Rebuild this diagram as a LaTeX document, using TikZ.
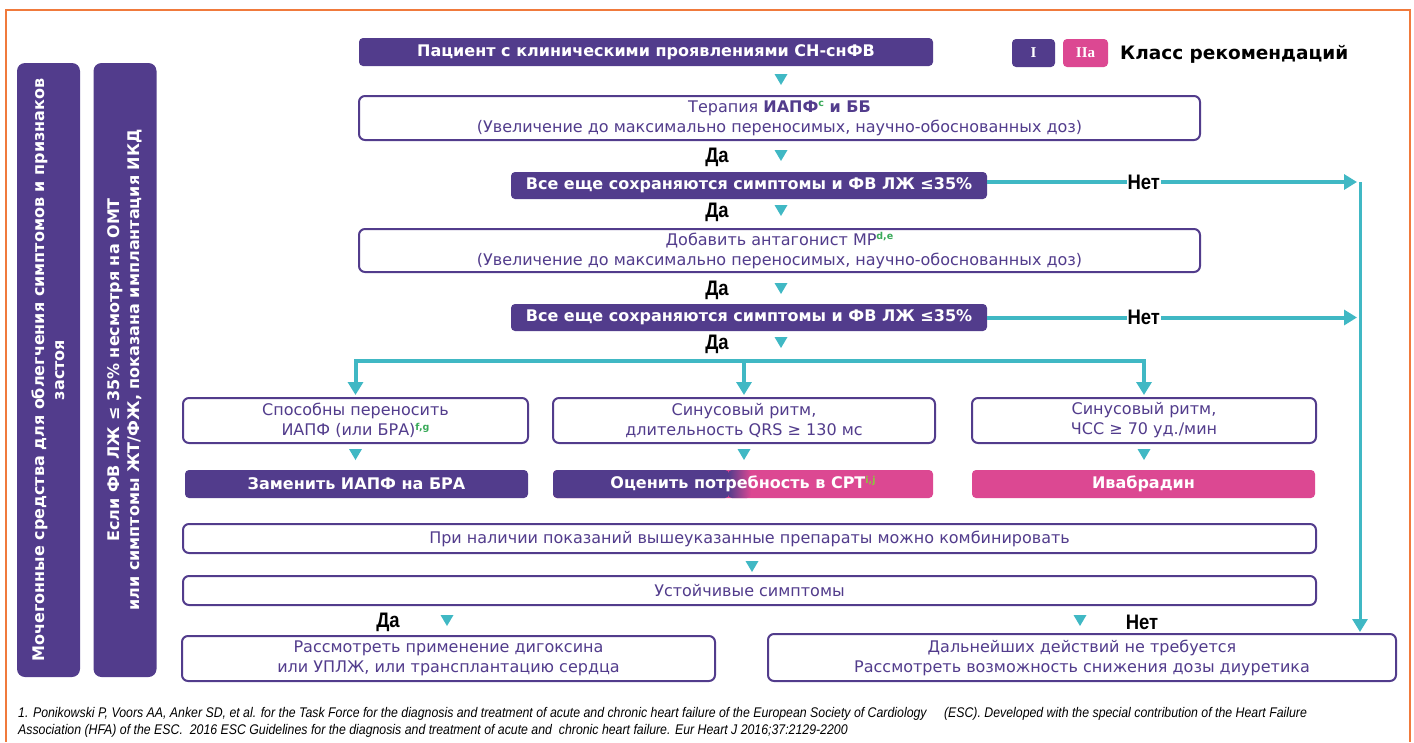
\documentclass[tikz,border=0pt]{standalone}
\usepackage{fontspec}
\setmainfont{DejaVu Sans}
\newfontfamily\romfont{Liberation Serif}
\newfontfamily\yesfont[FakeStretch=0.88]{Liberation Sans}
\newfontfamily\notefont[FakeStretch=0.88]{Liberation Sans}
\usetikzlibrary{calc}
\usetikzlibrary{arrows.meta}
\definecolor[named]{HFPurple}{HTML}{523C8C}
\definecolor[named]{HFPink}{HTML}{DC4892}
\definecolor[named]{HFCyan}{HTML}{40B8C4}
\definecolor[named]{HFOrange}{HTML}{F07A3C}
\definecolor[named]{HFGreen}{HTML}{3AAA5A}
\definecolor[named]{HFLime}{HTML}{8CC63F}
\newcommand{\txt}{\fontsize{16}{20}\selectfont}
\newcommand{\fn}[2][HFGreen]{\raisebox{0.6ex}{\fontsize{9.5}{9.5}\selectfont\bfseries\color{#1}#2}}
\newcommand{\downtri}[1]{\fill[HFCyan] #1 ++(-6.5,0) -- ++(13,0) -- ++(-6.5,11) -- cycle;}
\tikzset{
  fillbox/.style={rectangle,rounded corners=4pt,fill=HFPurple,text=white,
    font=\txt\bfseries,inner sep=0pt,align=center},
  pinkbox/.style={fillbox,fill=HFPink},
  wbox/.style={rectangle,rounded corners=6pt,draw=HFPurple,line width=2pt,
    fill=white,text=HFPurple,font=\txt,align=center,inner sep=0pt},
  sidebar/.style={fillbox,rounded corners=8pt,rotate=90},
  yes/.style={font=\yesfont\fontsize{21}{21}\selectfont\bfseries,text=black,inner sep=1pt},
  flow/.style={HFCyan,line width=4pt,-{Triangle[width=15pt,length=13pt]}},
}
\begin{document}
\begin{tikzpicture}[x=1pt,y=-1pt]
  \useasboundingbox (0,0) rectangle (1414,742);
  \draw[HFOrange,line width=1.5pt] (6,742) |- (1410,10) -- (1410,742);

  % Side bars {{{
  \node[sidebar,minimum width=614,minimum height=63] (diur) at (48.5,370)
    {Мочегонные средства для облегчения симптомов и признаков\\застоя};
  \node[sidebar,minimum width=614,minimum height=63] (icd) at (125,370)
    {Если ФВ ЛЖ ≤ 35\% несмотря на ОМТ\\или симптомы ЖТ/ФЖ, показана имплантация ИКД};
  % }}}

  % Legend {{{
  \node[fillbox,font=\romfont\fontsize{15}{15}\selectfont\bfseries,
    minimum width=43,minimum height=28] (clI) at (1033.5,53) {I};
  \node[pinkbox,font=\romfont\fontsize{15}{15}\selectfont\bfseries,
    minimum width=45,minimum height=28] (clIIa) at (1085.5,53) {IIa};
  \node[anchor=west,font=\fontsize{18.5}{18.5}\selectfont\bfseries,inner sep=0pt]
    (cls) at (1120,54) {Класс рекомендаций};
  % }}}

  % Main column {{{
  \node[fillbox,minimum width=574,minimum height=28] (hf) at (646,52)
    {Пациент с клиническими проявлениями СН-снФВ};
  \downtri{(781,74)}
  \node[wbox,minimum width=841,minimum height=44] (acei) at (779.5,118)
    {Терапия \textbf{ИАПФ\fn{c} и ББ}\\(Увеличение до максимально переносимых, научно-обоснованных доз)};
  \node[yes] at (717,157) {Да};
  \downtri{(781,150)}
  \node[fillbox,minimum width=476,minimum height=27] (still1) at (749,185.5)
    {Все еще сохраняются симптомы и ФВ ЛЖ ≤35\%};
  \node[yes] at (717,212) {Да};
  \downtri{(781,205)}
  \node[wbox,minimum width=841,minimum height=43] (mra) at (779.5,250.5)
    {Добавить антагонист МР\fn{d,e}\\(Увеличение до максимально переносимых, научно-обоснованных доз)};
  \node[yes] at (717,290) {Да};
  \downtri{(781,283)}
  \node[fillbox,minimum width=476,minimum height=27] (still2) at (749,317.5)
    {Все еще сохраняются симптомы и ФВ ЛЖ ≤35\%};
  \node[yes] at (717,344) {Да};
  \downtri{(781,337)}
  % }}}

  % Branches {{{
  \node[wbox,minimum width=345,minimum height=45] (tol) at (355.5,420.5)
    {Способны переносить\\ИАПФ (или БРА)\fn{f,g}};
  \node[wbox,minimum width=382,minimum height=45] (qrs) at (744,420.5)
    {Синусовый ритм,\\длительность QRS ≥ 130 мс};
  \node[wbox,minimum width=344,minimum height=45] (hr) at (1144,420.5)
    {Синусовый ритм,\\ЧСС ≥ 70 уд./мин};
  \coordinate (fork) at (qrs.north |- 0,361);
  \draw[flow,shorten >=2pt] (fork) -| (tol.north);
  \draw[flow,shorten >=2pt] (fork) -| (hr.north);
  \draw[flow,shorten >=2pt] (fork) -- (qrs.north);
  \downtri{(355.5,449)}
  \downtri{(744,449)}
  \downtri{(1144,449)}
  \node[fillbox,minimum width=343,minimum height=28] (arb) at (356.5,484)
    {Заменить ИАПФ на БРА};
  \node[pinkbox,minimum width=380,minimum height=28,path picture={
      \fill[HFPurple] (path picture bounding box.north west)
        rectangle ([xshift=176pt]path picture bounding box.south west);
      \shade[left color=HFPurple,right color=HFPink]
        ([xshift=175pt]path picture bounding box.north west)
        rectangle ([xshift=198pt]path picture bounding box.south west);
    }] (crt) at (743,484) {Оценить потребность в СРТ\fn[HFLime]{i,j}};
  \node[pinkbox,minimum width=343,minimum height=28] (ivab) at (1143.5,484)
    {Ивабрадин};
  % }}}

  % Bottom {{{
  \node[wbox,minimum width=1133,minimum height=29] (comb) at (749.5,538.5)
    {При наличии показаний вышеуказанные препараты можно комбинировать};
  \downtri{(752,561)}
  \node[wbox,minimum width=1133,minimum height=29] (pers) at (749.5,590.5)
    {Устойчивые симптомы};
  \node[yes] at (388,622) {Да};
  \downtri{(447,615)}
  \downtri{(1080,615)}
  \node[yes] at (1142,622) {Нет};
  \node[wbox,minimum width=533,minimum height=45] (dig) at (448.5,658.5)
    {Рассмотреть применение дигоксина\\или УПЛЖ, или трансплантацию сердца};
  \node[wbox,minimum width=628,minimum height=47] (noact) at (1082,657.5)
    {Дальнейших действий не требуется\\Рассмотреть возможность снижения дозы диуретика};
  % }}}

  % No-path {{{
  \coordinate (railtop) at (1360,182);
  \draw[flow,shorten >=3pt] (still1.east |- railtop) -- (railtop)
    node[yes,pos=0.42,fill=white] {Нет};
  \draw[flow,shorten >=3pt] (still2.east) -- (still2.east -| railtop)
    node[yes,pos=0.42,fill=white] {Нет};
  \draw[flow,line width=3pt,shorten >=1pt] (railtop) -- (railtop |- noact.north);
  % }}}

  \node[anchor=north west,align=left,inner sep=0pt,
    font=\notefont\itshape\fontsize{14}{17}\selectfont] (ref) at (18,707)
    {1. Ponikowski P, Voors AA, Anker SD, et al. for the Task Force for the diagnosis and treatment of acute and chronic heart failure of the European Society of Cardiology\quad\ (ESC). Developed with the special contribution of the Heart Failure\\
     Association (HFA) of the ESC.\ \ 2016 ESC Guidelines for the diagnosis and treatment of acute and\ \ chronic heart failure. Eur Heart J 2016;37:2129-2200};
\end{tikzpicture}
\end{document}
